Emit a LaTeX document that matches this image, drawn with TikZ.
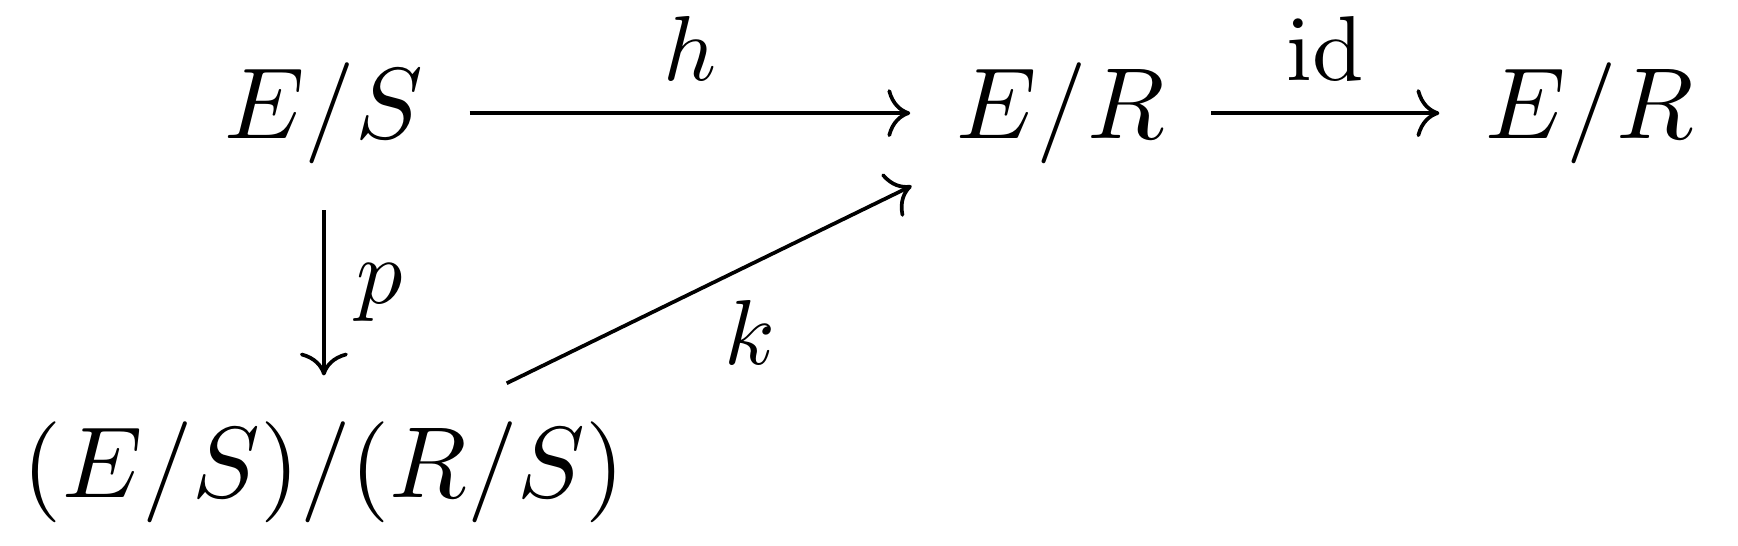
\documentclass[tikz,border=0pt]{standalone}
\usetikzlibrary{arrows.meta}
\begin{document}
\begin{tikzpicture}[map/.style={-{To}, shorten >=1.5pt, shorten <=1.5pt},
  obj/.style={font=\fontsize{10.95}{13.6}\selectfont},
  lbl/.style={font=\fontsize{10}{12}\selectfont}]
\useasboundingbox (0,0) rectangle (6.622,-2.080);
%% ---- objects ----
\node[obj] (ES)   at (1.234,-0.431) {$E/S$};
\node[obj] (ER)   at (4.042,-0.431) {$E/R$};
\node[obj] (ERR)  at (6.058,-0.431) {$E/R$};
\node[obj] (quot) at (1.234,-1.800) {$(E/S)/(R/S)$};
%% ---- maps ----
\draw[map] (ES) -- node[lbl, above] {$h$} (ER);
\draw[map] (ER) -- node[lbl, above] {$\mathrm{id}$} (ERR);
\draw[map] (ES) -- node[lbl, right] {$p$} (ES |- quot.north);
\draw[map] (quot) -- node[lbl, below right, inner sep=1.5pt, pos=0.5] {$k$} (ER);
\end{tikzpicture}
\end{document}
